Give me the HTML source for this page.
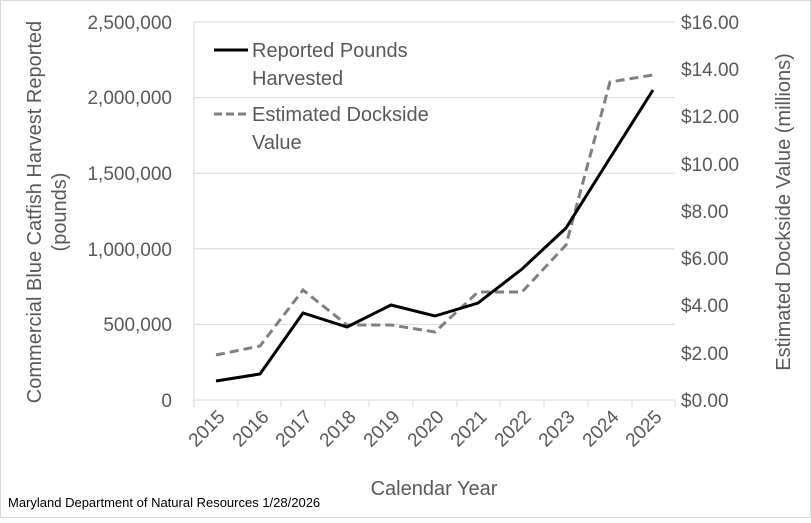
<!DOCTYPE html>
<html><head><style>body{margin:0;background:#fff}</style></head><body>
<svg width="811" height="518" xmlns="http://www.w3.org/2000/svg" font-family="Liberation Sans, sans-serif">
<rect x="0.5" y="0.5" width="810" height="517" fill="#fff" stroke="#d9d9d9"/>
<g stroke="#d9d9d9" stroke-width="1">
<line x1="194" y1="22" x2="675" y2="22"/><line x1="194" y1="97.6" x2="675" y2="97.6"/>
<line x1="194" y1="173.2" x2="675" y2="173.2"/><line x1="194" y1="248.8" x2="675" y2="248.8"/>
<line x1="194" y1="324.4" x2="675" y2="324.4"/><line x1="194" y1="22" x2="194" y2="400"/>
<line x1="194" y1="400" x2="675" y2="400"/>
<path d="M194 400v7M238 400v7M281 400v7M325 400v7M369 400v7M413 400v7M457 400v7M500 400v7M544 400v7M588 400v7M632 400v7M675 400v7"/>
</g>
<g fill="#595959" font-size="19" text-anchor="end">
<text x="172" y="29">2,500,000</text><text x="172" y="104">2,000,000</text><text x="172" y="180">1,500,000</text>
<text x="172" y="256">1,000,000</text><text x="172" y="331">500,000</text><text x="172" y="407">0</text>
</g>
<g fill="#595959" font-size="19" text-anchor="start">
<text x="681" y="29">$16.00</text><text x="681" y="76">$14.00</text><text x="681" y="123">$12.00</text>
<text x="681" y="171">$10.00</text><text x="681" y="218">$8.00</text><text x="681" y="265">$6.00</text>
<text x="681" y="312">$4.00</text><text x="681" y="360">$2.00</text><text x="681" y="407">$0.00</text>
</g>
<g fill="#595959" font-size="19" text-anchor="end">
<text transform="translate(226,418) rotate(-45)">2015</text><text transform="translate(270,418) rotate(-45)">2016</text>
<text transform="translate(313,418) rotate(-45)">2017</text><text transform="translate(357,418) rotate(-45)">2018</text>
<text transform="translate(401,418) rotate(-45)">2019</text><text transform="translate(445,418) rotate(-45)">2020</text>
<text transform="translate(488,418) rotate(-45)">2021</text><text transform="translate(532,418) rotate(-45)">2022</text>
<text transform="translate(576,418) rotate(-45)">2023</text><text transform="translate(620,418) rotate(-45)">2024</text>
<text transform="translate(663,418) rotate(-45)">2025</text>
</g>
<text x="434" y="495" fill="#595959" font-size="20" text-anchor="middle">Calendar Year</text>
<text x="8" y="507" fill="#000" font-size="13">Maryland Department of Natural Resources 1/28/2026</text>
<g fill="#595959" font-size="20" text-anchor="middle">
<text transform="translate(41,212) rotate(-90)">Commercial Blue Catfish Harvest Reported</text>
<text transform="translate(66,212) rotate(-90)">(pounds)</text>
<text transform="translate(790,212) rotate(-90)">Estimated Dockside Value (millions)</text>
</g>
<polyline fill="none" stroke="#808080" stroke-width="3" stroke-dasharray="9,5" points="216,355 260,346 303,290 347,325 391,325 435,332 478,292 522,292 566,245 610,82 653,75"/>
<polyline fill="none" stroke="#000" stroke-width="3" points="216,381 260,374 303,313 347,327 391,305 435,316 478,303 522,269 566,228 610,158 653,90"/>
<line x1="214" y1="50" x2="248" y2="50" stroke="#000" stroke-width="3"/>
<line x1="214" y1="114" x2="248" y2="114" stroke="#808080" stroke-width="3" stroke-dasharray="8,4"/>
<g fill="#595959" font-size="20">
<text x="252" y="57">Reported Pounds</text><text x="252" y="85">Harvested</text>
<text x="252" y="121">Estimated Dockside</text><text x="252" y="149">Value</text>
</g>
</svg>
</body></html>
